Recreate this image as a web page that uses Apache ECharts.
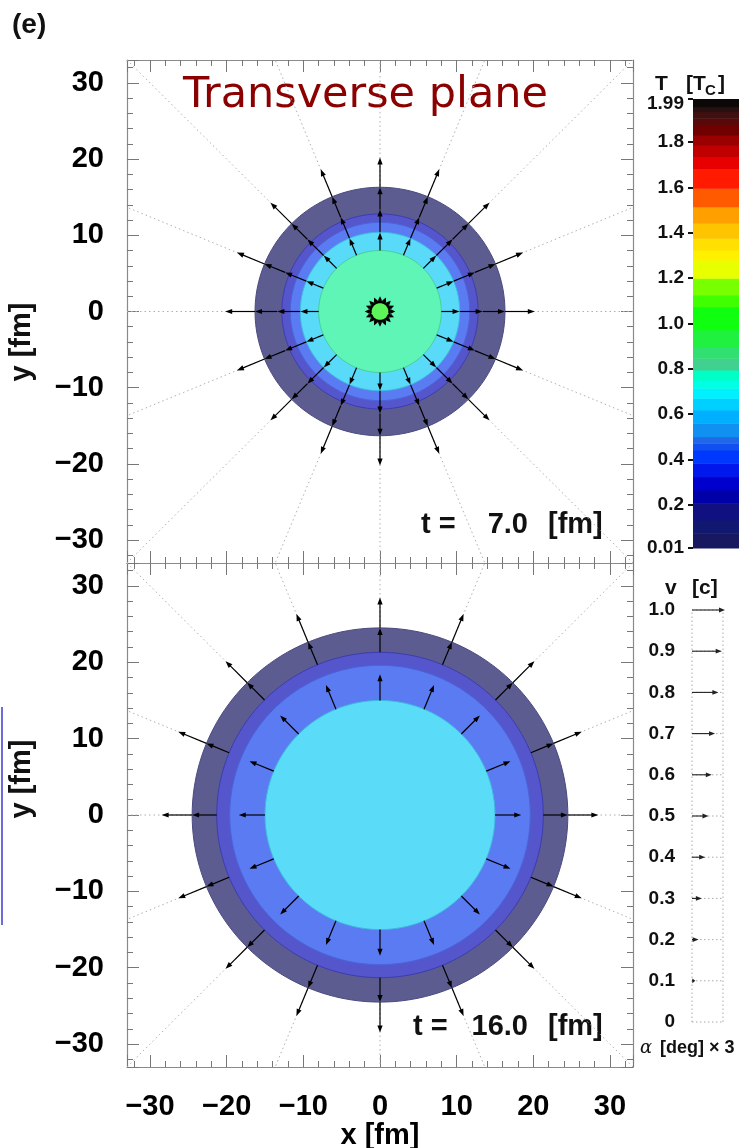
<!DOCTYPE html>
<html><head><meta charset="utf-8">
<script src="https://cdn.jsdelivr.net/npm/echarts@6/dist/echarts.min.js"></script>
<style>html,body{margin:0;padding:0;background:#fff}#c{width:756px;height:1148px}</style>
</head><body><div id="c"></div>
<script>
// ---------------- data ----------------
const rayAngles = [0, 22.5, 45, 67.5, 90, 112.5, 135, 157.5, 180, 202.5, 225, 247.5, 270, 292.5, 315, 337.5];

// top panel (t = 7.0 fm): isotherm disks, outer -> inner (radius in fm)
const topRingRadii  = [16.3, 12.8, 11.7, 10.4, 8.0, 1.25];
const topRingColors = ['#5c5c90', '#5656cc', '#5b7bf2', '#58daf8', '#5ef5b6', '#5cf55a'];
const topRingBorders = ['#4a4a80', '#3c3cb0', '#4a64d8', '#40b8e0', '#48d098', '#000000'];
// bottom panel (t = 16.0 fm)
const bottomRingRadii  = [24.5, 21.3, 19.6, 15.0];
const bottomRingColors = ['#5c5c90', '#5656cc', '#5b7bf2', '#5adcf8'];
const bottomRingBorders = ['#4a4a80', '#3c3cb0', '#4a64d8', '#40b8e0'];

// velocity arrows: start radius (fm) and speed (c) on every ray
const topArrowStart = [1.25, 8.0, 10.4, 13.4, 16.3];
const topArrowV     = [0.17, 0.55, 0.69, 0.67, 0.90];
const bottomArrowStart = [15.0, 21.3, 24.5];
const bottomArrowV     = [0.79, 0.74, 0.92];
const FM_PER_C = 4.33;          // arrow length per unit speed

const timeLabels = ['7.0', '16.0'];

// temperature palette (T / Tc)
const tempBandEdges = [0.01, 0.075, 0.133, 0.207, 0.266, 0.324, 0.384, 0.442, 0.472, 0.501, 0.560, 0.619, 0.670, 0.714, 0.751, 0.795, 0.847, 0.898, 0.971, 1.074, 1.126, 1.199, 1.280, 1.324, 1.376, 1.442, 1.515, 1.596, 1.684, 1.736, 1.787, 1.831, 1.875, 1.905, 1.934, 1.956, 1.99];
const tempBandColors = ['#181860', '#101870', '#101080', '#0000a8', '#0000cc', '#0018ec', '#0038ff', '#1050f0', '#2068e8', '#1090f0', '#00b0ff', '#00d0ff', '#00f0ff', '#00ffe4', '#00ffc4', '#40d090', '#30e070', '#20f040', '#10ff10', '#40ff00', '#78ff00', '#e8ff00', '#fff000', '#ffe000', '#ffc400', '#ffa000', '#ff5a00', '#ff1a00', '#e80000', '#c00000', '#9a0000', '#700000', '#580808', '#401010', '#281010', '#0c0808'];
const tempMin = 0.01, tempMax = 1.99;

// velocity legend
const velLegendValues = [1.0, 0.9, 0.8, 0.7, 0.6, 0.5, 0.4, 0.3, 0.2, 0.1];
const LEG_BOX_FM = 4.07;

// ---------------- helpers ----------------
const F = 'Liberation Sans, Arial, Helvetica, sans-serif';
const D2R = Math.PI / 180;

function arrowEl(p0, p1, hl, hw, color, lw) {
  const dx = p1[0] - p0[0], dy = p1[1] - p0[1];
  const L = Math.hypot(dx, dy) || 1;
  const ux = dx / L, uy = dy / L;
  const h = Math.min(hl, L * 0.9);
  const bx = p1[0] - ux * h, by = p1[1] - uy * h;
  return {
    type: 'group', children: [
      { type: 'line', shape: { x1: p0[0], y1: p0[1], x2: bx + ux, y2: by + uy }, style: { stroke: color, lineWidth: lw } },
      { type: 'polygon', shape: { points: [[p1[0], p1[1]], [bx - uy * hw, by + ux * hw], [bx + uy * hw, by - ux * hw]] }, style: { fill: color } }
    ]
  };
}

function raySeries(ai) {
  return {
    type: 'custom', xAxisIndex: ai, yAxisIndex: ai, clip: true, silent: true, z: 1,
    data: rayAngles.map(a => [a]),
    renderItem(params, api) {
      const a = api.value(0) * D2R;
      const p0 = api.coord([0, 0]);
      const p1 = api.coord([60 * Math.cos(a), 60 * Math.sin(a)]);
      return { type: 'line', shape: { x1: p0[0], y1: p0[1], x2: p1[0], y2: p1[1] },
        style: { stroke: '#b0b0b0', lineWidth: 1, lineDash: [1.5, 3] } };
    }
  };
}

function diskSeries(ai, radii, colors, borders) {
  return {
    type: 'custom', xAxisIndex: ai, yAxisIndex: ai, clip: true, silent: true, z: 2,
    data: radii.map((r, i) => [r, i]),
    renderItem(params, api) {
      const r = api.value(0), i = api.value(1);
      const pts = [];
      for (let k = 0; k < 180; k++) {
        const a = k / 180 * 2 * Math.PI;
        pts.push(api.coord([r * Math.cos(a), r * Math.sin(a)]));
      }
      return { type: 'polygon', shape: { points: pts },
        style: { fill: colors[i], stroke: borders[i], lineWidth: borders[i] === '#000000' ? 2.5 : 1 } };
    }
  };
}

function arrowSeries(ai, starts, vs) {
  const data = [];
  rayAngles.forEach(a => starts.forEach((s, j) => data.push([a, s, vs[j]])));
  return {
    type: 'custom', xAxisIndex: ai, yAxisIndex: ai, clip: true, silent: true, z: 3,
    dimensions: ['ang', 'r', 'v'],
    data,
    renderItem(params, api) {
      const a = api.value(0) * D2R, s = api.value(1), v = api.value(2);
      const e = s + v * FM_PER_C;
      const c = Math.cos(a), sn = Math.sin(a);
      const p0 = api.coord([s * c, s * sn]);
      const p1 = api.coord([e * c, e * sn]);
      const small = s < 3;
      return arrowEl(p0, p1, small ? 4.5 : 7, small ? 2.2 : 2.6, '#000', small ? 1.5 : 1.2);
    }
  };
}

const tickColor = '#777';
function frameAxis(gridIndex, pos, isX, labels, extra) {
  const ax = {
    type: 'value', gridIndex, position: pos, min: -33, max: 33, splitNumber: 5,
    axisLine: { show: true, onZero: false, lineStyle: { color: '#8a8a8a', width: 1.2 } },
    axisTick: { show: true, inside: true, length: 12, lineStyle: { color: tickColor, width: 1 } },
    minorTick: { show: true, splitNumber: 5, length: 6, lineStyle: { color: tickColor, width: 1 } },
    splitLine: { show: false },
    axisLabel: {
      show: labels, margin: isX ? 25 : 23, fontFamily: F, fontWeight: 'bold', fontSize: 29, color: '#000',
      formatter: v => (Math.abs(v % 10) < 1e-9 ? String(v).replace('-', '\u2212') : '')
    }
  };
  return Object.assign(ax, extra || {});
}

const gridBase = { outerBoundsMode: 'none', containLabel: false };

const option = {
  animation: false,
  backgroundColor: '#fff',
  grid: [
    Object.assign({ left: 127, top: 60, width: 506, height: 503 }, gridBase),
    Object.assign({ left: 127, top: 563, width: 506, height: 504 }, gridBase),
    Object.assign({ left: 693, top: 99, width: 46, height: 449 }, gridBase),
    Object.assign({ left: 692, top: 610, width: 31, height: 412 }, gridBase)
  ],
  xAxis: [
    frameAxis(0, 'bottom', true, false),
    frameAxis(0, 'top', true, false),
    frameAxis(1, 'bottom', true, true, {
      name: 'x [fm]', nameLocation: 'middle', nameGap: 52,
      nameTextStyle: { fontFamily: F, fontWeight: 'bold', fontSize: 29, color: '#000' }
    }),
    frameAxis(1, 'top', true, false),
    { type: 'value', gridIndex: 2, min: 0, max: 1, show: false },
    { type: 'value', gridIndex: 3, min: 0, max: LEG_BOX_FM, show: false }
  ],
  yAxis: [
    frameAxis(0, 'left', false, true),
    frameAxis(0, 'right', false, false),
    frameAxis(1, 'left', false, true),
    frameAxis(1, 'right', false, false),
    {
      type: 'value', gridIndex: 2, min: tempMin, max: tempMax, splitNumber: 10, position: 'left',
      axisLine: { show: false },
      axisTick: { show: true, inside: false, length: 5, lineStyle: { color: '#111', width: 2 } },
      splitLine: { show: false },
      axisLabel: {
        margin: 9, fontFamily: F, fontWeight: 'bold', fontSize: 19, color: '#111',
        formatter: v => Math.abs(v - tempMax) < 1e-9 ? '{top|' + v.toFixed(2) + '}' :
          (Math.abs(v - tempMin) < 1e-9 ? v.toFixed(2) : v.toFixed(1)),
        rich: { top: { fontFamily: F, fontWeight: 'bold', fontSize: 19, color: '#111', padding: [9, 0, 0, 0] } }
      }
    },
    {
      type: 'value', gridIndex: 3, min: 0, max: 1, interval: 0.1, position: 'left',
      axisLine: { show: false }, axisTick: { show: false }, splitLine: { show: false },
      axisLabel: {
        margin: 17, fontFamily: F, fontWeight: 'bold', fontSize: 19, color: '#111',
        formatter: v => (v === 0 ? '0' : v.toFixed(1))
      }
    }
  ],
  series: [
    raySeries(0),
    diskSeries(0, topRingRadii, topRingColors, topRingBorders),
    arrowSeries(0, topArrowStart, topArrowV),
    raySeries(2),
    diskSeries(2, bottomRingRadii, bottomRingColors, bottomRingBorders),
    arrowSeries(2, bottomArrowStart, bottomArrowV),
    // colour bar
    { type: 'custom', xAxisIndex: 4, yAxisIndex: 4, silent: true,
      data: tempBandColors.map((c, i) => [tempBandEdges[i], tempBandEdges[i + 1], i]),
      renderItem(params, api) {
        const lo = api.value(0), hi = api.value(1), i = api.value(2);
        const p0 = api.coord([0, lo]), p1 = api.coord([1, hi]);
        return { type: 'rect', shape: { x: p0[0], y: p1[1], width: p1[0] - p0[0], height: p0[1] - p1[1] + 0.5 },
          style: { fill: tempBandColors[i] } };
      } },
    // velocity legend: dotted rows
    { type: 'custom', xAxisIndex: 5, yAxisIndex: 5, silent: true,
      data: velLegendValues.concat([0]).map(v => [v]),
      renderItem(params, api) {
        const v = api.value(0);
        const p0 = api.coord([0, v]), p1 = api.coord([LEG_BOX_FM, v]);
        return { type: 'line', shape: { x1: p0[0], y1: p0[1], x2: p1[0], y2: p1[1] }, style: { stroke: '#aaa', lineWidth: 1, lineDash: [1.5, 2.5] } };
      } },
    { type: 'custom', xAxisIndex: 5, yAxisIndex: 5, silent: true,
      data: [[0], [LEG_BOX_FM]],
      renderItem(params, api) {
        const x = api.value(0);
        const p0 = api.coord([x, 0]), p1 = api.coord([x, 1]);
        return { type: 'line', shape: { x1: p0[0], y1: p0[1], x2: p1[0], y2: p1[1] }, style: { stroke: '#aaa', lineWidth: 1, lineDash: [1.5, 2.5] } };
      } },
    { type: 'custom', xAxisIndex: 5, yAxisIndex: 5, silent: true, z: 3,
      data: velLegendValues.map(v => [v]),
      renderItem(params, api) {
        const v = api.value(0);
        const p0 = api.coord([0, v]), p1 = api.coord([v * FM_PER_C, v]);
        return arrowEl(p0, p1, 6, 2.4, '#222', 1.1);
      } }
  ],
  graphic: [
    { type: 'text', left: 12, top: 11, style: { text: '(e)', font: 'bold 28px ' + F, fill: '#111' } },
    { type: 'text', x: 183, y: 96, style: { text: 'Transverse plane', font: '43px DejaVu Sans, sans-serif', fill: '#8b0000', textVerticalAlign: 'middle' } },
    { type: 'text', x: 421, y: 525, style: { text: 't =', font: 'bold 29px ' + F, fill: '#111', textVerticalAlign: 'middle' } },
    { type: 'text', x: 528, y: 525, style: { text: timeLabels[0], font: 'bold 29px ' + F, fill: '#111', textAlign: 'right', textVerticalAlign: 'middle' } },
    { type: 'text', x: 548, y: 525, style: { text: '[fm]', font: 'bold 29px ' + F, fill: '#111', textVerticalAlign: 'middle' } },
    { type: 'text', x: 413, y: 1027, style: { text: 't =', font: 'bold 29px ' + F, fill: '#111', textVerticalAlign: 'middle' } },
    { type: 'text', x: 528, y: 1027, style: { text: timeLabels[1], font: 'bold 29px ' + F, fill: '#111', textAlign: 'right', textVerticalAlign: 'middle' } },
    { type: 'text', x: 548, y: 1027, style: { text: '[fm]', font: 'bold 29px ' + F, fill: '#111', textVerticalAlign: 'middle' } },
    { type: 'text', x: 22, y: 342, rotation: Math.PI / 2, style: { text: 'y [fm]', font: 'bold 29px ' + F, fill: '#111', textAlign: 'center', textVerticalAlign: 'middle' } },
    { type: 'text', x: 22, y: 779, rotation: Math.PI / 2, style: { text: 'y [fm]', font: 'bold 29px ' + F, fill: '#111', textAlign: 'center', textVerticalAlign: 'middle' } },
    { type: 'line', shape: { x1: 2, y1: 707, x2: 2, y2: 925 }, style: { stroke: '#3a3ad0', lineWidth: 1.5 } },
    // colour-bar title  T [Tc]
    { type: 'text', x: 655, y: 84, style: { text: 'T', font: 'bold 21px ' + F, fill: '#111', textVerticalAlign: 'middle' } },
    { type: 'text', x: 686, y: 84, style: { text: '[T', font: 'bold 21px ' + F, fill: '#111', textVerticalAlign: 'middle' } },
    { type: 'text', x: 705, y: 91, style: { text: 'C', font: 'bold 15px ' + F, fill: '#111', textVerticalAlign: 'middle' } },
    { type: 'text', x: 718, y: 84, style: { text: ']', font: 'bold 21px ' + F, fill: '#111', textVerticalAlign: 'middle' } },
    // velocity legend title
    { type: 'text', x: 665, y: 588, style: { text: 'v', font: 'bold 21px ' + F, fill: '#111', textVerticalAlign: 'middle' } },
    { type: 'text', x: 692, y: 588, style: { text: '[c]', font: 'bold 21px ' + F, fill: '#111', textVerticalAlign: 'middle' } },
    { type: 'text', x: 640, y: 1048, style: { text: '\u03b1', font: 'italic 18px DejaVu Serif, serif', fill: '#111', textVerticalAlign: 'middle' } },
    { type: 'text', x: 660, y: 1048, style: { text: '[deg] \u00d7 3', font: 'bold 18px ' + F, fill: '#111', textVerticalAlign: 'middle' } }
  ]
};

const chart = echarts.init(document.getElementById('c'));
chart.setOption(option);
</script>
</body></html>
